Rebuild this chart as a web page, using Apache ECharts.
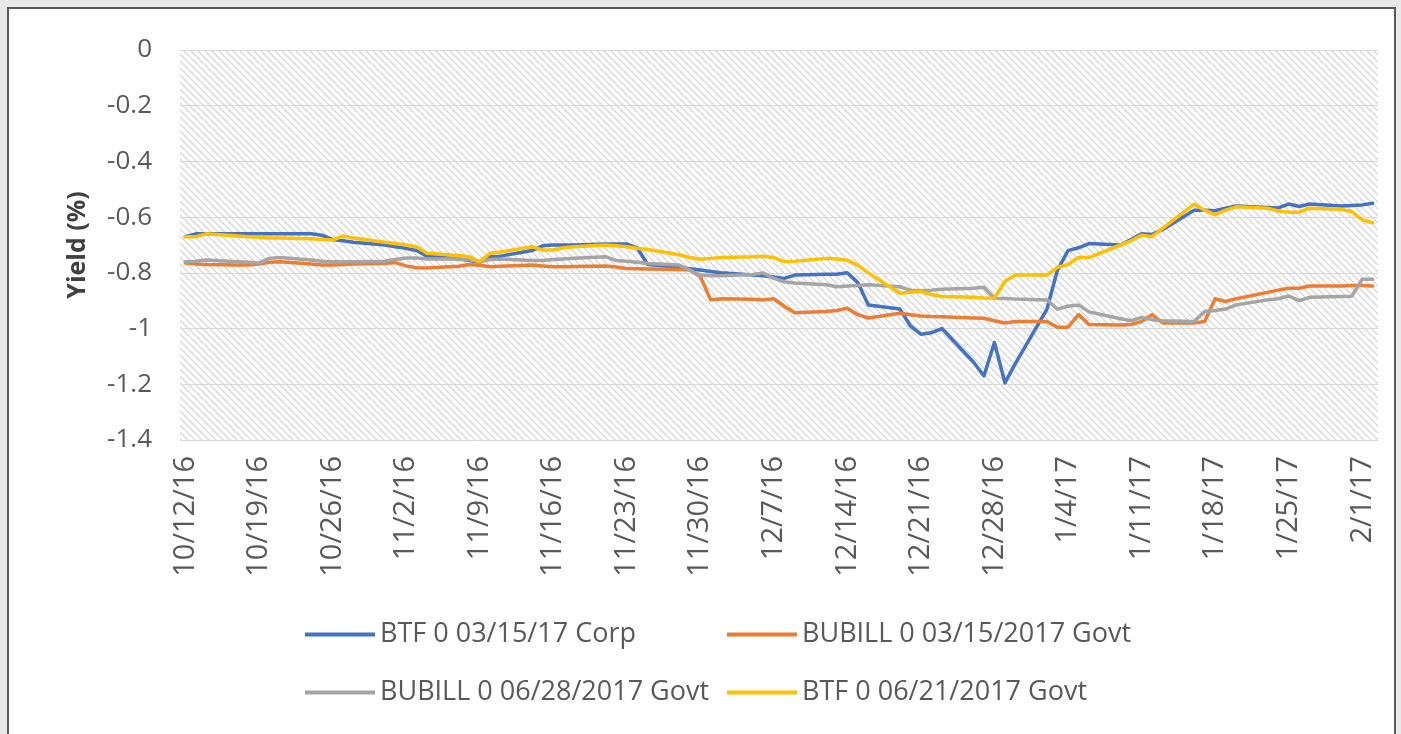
<!DOCTYPE html>
<html>
<head>
<meta charset="utf-8">
<script src="https://cdn.jsdelivr.net/npm/echarts@6/dist/echarts.min.js"></script>
<style>
  html, body { margin: 0; padding: 0; width: 1401px; height: 734px; overflow: hidden; background: #e9e9e9; }
  #frame { position: absolute; left: 7px; top: 7px; width: 1385px; height: 760px; border: 2px solid #5a5a5a; background: #ffffff; }
  #chart { position: absolute; left: 0; top: 0; width: 1401px; height: 734px; }
</style>
</head>
<body>
<div id="frame"></div>
<div id="chart"></div>
<script>
// Calendar range shown on the axis (one category per calendar day)
const startDate = [2016, 9, 12];   // 10/12/16
const dayCount = 114;              // through 2/2/17

// Series names
const seriesNames = [
  'BTF 0 03/15/17 Corp',
  'BUBILL 0 03/15/2017 Govt',
  'BUBILL 0 06/28/2017 Govt',
  'BTF 0 06/21/2017 Govt'
];

// Values per business day (Mon-Fri), 10/12/16 .. 2/2/17
const btf0315 = [
  -0.67,-0.66,-0.66,
  -0.66,-0.66,-0.66,-0.66,-0.66,
  -0.66,-0.665,-0.68,-0.685,-0.69,
  -0.70,-0.706,-0.712,-0.72,-0.74,
  -0.75,-0.755,-0.762,-0.742,-0.74,
  -0.72,-0.703,-0.70,-0.70,-0.70,
  -0.696,-0.696,-0.696,-0.71,-0.77,
  -0.78,-0.785,-0.79,-0.795,-0.80,
  -0.808,-0.81,-0.815,-0.82,-0.808,
  -0.805,-0.805,-0.80,-0.835,-0.915,
  -0.93,-0.99,-1.02,-1.015,-1.0,
  -1.12,-1.17,-1.05,-1.195,-1.125,
  -0.93,-0.79,-0.72,-0.71,-0.695,
  -0.70,-0.68,-0.66,-0.662,-0.645,
  -0.575,-0.575,-0.577,-0.568,-0.56,
  -0.565,-0.567,-0.553,-0.562,-0.553,
  -0.56,-0.558,-0.556,-0.55
];
const bubill0315 = [
  -0.765,-0.768,-0.77,
  -0.772,-0.772,-0.768,-0.762,-0.76,
  -0.768,-0.772,-0.772,-0.77,-0.768,
  -0.766,-0.763,-0.775,-0.782,-0.783,
  -0.776,-0.77,-0.773,-0.778,-0.776,
  -0.772,-0.775,-0.778,-0.778,-0.777,
  -0.775,-0.779,-0.784,-0.785,-0.786,
  -0.788,-0.79,-0.812,-0.897,-0.893,
  -0.895,-0.897,-0.893,-0.92,-0.943,
  -0.939,-0.935,-0.927,-0.95,-0.962,
  -0.945,-0.95,-0.955,-0.957,-0.958,
  -0.962,-0.963,-0.972,-0.98,-0.975,
  -0.975,-0.995,-0.995,-0.95,-0.985,
  -0.987,-0.985,-0.975,-0.95,-0.98,
  -0.98,-0.975,-0.893,-0.903,-0.893,
  -0.87,-0.862,-0.855,-0.855,-0.847,
  -0.847,-0.845,-0.845,-0.847
];
const bubill0628 = [
  -0.76,-0.758,-0.754,
  -0.76,-0.762,-0.765,-0.748,-0.745,
  -0.754,-0.758,-0.76,-0.76,-0.76,
  -0.758,-0.752,-0.747,-0.747,-0.75,
  -0.75,-0.752,-0.76,-0.752,-0.75,
  -0.756,-0.756,-0.752,-0.75,-0.748,
  -0.742,-0.756,-0.758,-0.762,-0.766,
  -0.772,-0.79,-0.808,-0.81,-0.81,
  -0.806,-0.80,-0.82,-0.832,-0.836,
  -0.843,-0.85,-0.847,-0.845,-0.843,
  -0.85,-0.862,-0.864,-0.862,-0.859,
  -0.855,-0.852,-0.891,-0.892,-0.894,
  -0.897,-0.93,-0.92,-0.915,-0.94,
  -0.965,-0.972,-0.96,-0.968,-0.972,
  -0.975,-0.939,-0.935,-0.93,-0.915,
  -0.897,-0.893,-0.883,-0.90,-0.888,
  -0.885,-0.884,-0.823,-0.823
];
const btf0621 = [
  -0.67,-0.67,-0.66,
  -0.668,-0.67,-0.672,-0.675,-0.675,
  -0.678,-0.68,-0.682,-0.668,-0.675,
  -0.69,-0.695,-0.70,-0.706,-0.73,
  -0.738,-0.742,-0.76,-0.73,-0.725,
  -0.706,-0.718,-0.718,-0.71,-0.706,
  -0.70,-0.703,-0.706,-0.712,-0.716,
  -0.735,-0.745,-0.751,-0.748,-0.745,
  -0.742,-0.74,-0.745,-0.76,-0.758,
  -0.748,-0.75,-0.755,-0.772,-0.80,
  -0.873,-0.87,-0.867,-0.878,-0.885,
  -0.888,-0.89,-0.891,-0.83,-0.808,
  -0.808,-0.78,-0.77,-0.745,-0.745,
  -0.70,-0.685,-0.665,-0.67,-0.64,
  -0.553,-0.575,-0.592,-0.575,-0.563,
  -0.568,-0.578,-0.582,-0.582,-0.568,
  -0.572,-0.58,-0.61,-0.62
];

// Y axis range and tick step
const yMin = -1.4, yMax = 0, yStep = 0.2;
const colors = ['#4472C4', '#ED7D31', '#A5A5A5', '#FFC000'];

// ---- build categories and align business-day values ----
const categories = [];
const isBusiness = [];
const t0 = Date.UTC(startDate[0], startDate[1], startDate[2]);
for (let i = 0; i < dayCount; i++) {
  const d = new Date(t0 + i * 86400000);
  categories.push((d.getUTCMonth() + 1) + '/' + d.getUTCDate() + '/' + String(d.getUTCFullYear()).slice(2));
  const wd = d.getUTCDay();
  isBusiness.push(wd !== 0 && wd !== 6);
}
function align(vals) {
  const out = []; let k = 0;
  for (let i = 0; i < dayCount; i++) out.push(isBusiness[i] ? vals[k++] : null);
  return out;
}
const allValues = [btf0315, bubill0315, bubill0628, btf0621];

// hatch pattern for plot background
const pc = document.createElement('canvas');
pc.width = 7; pc.height = 7;
const ctx = pc.getContext('2d');
ctx.strokeStyle = '#d2d2d2';
ctx.lineWidth = 1.2;
ctx.beginPath();
ctx.moveTo(-1, -1); ctx.lineTo(8, 8);
ctx.moveTo(-1, 6); ctx.lineTo(1, 8);
ctx.moveTo(6, -1); ctx.lineTo(8, 1);
ctx.stroke();

const chart = echarts.init(document.getElementById('chart'), null, { renderer: 'canvas' });
const font = "'Open Sans', 'Noto Sans', sans-serif";

const legendPos = [
  { left: 300, top: 616 },
  { left: 722, top: 616 },
  { left: 300, top: 674 },
  { left: 722, top: 674 }
];

chart.setOption({
  animation: false,
  backgroundColor: 'transparent',
  textStyle: { fontFamily: font },
  grid: {
    left: 180, top: 50, right: 23, bottom: 294,
    show: true, borderWidth: 0,
    backgroundColor: { image: pc, repeat: 'repeat' }
  },
  legend: seriesNames.map((n, i) => ({
    data: [n],
    left: legendPos[i].left,
    top: legendPos[i].top,
    icon: 'rect',
    itemWidth: 70,
    itemHeight: 4,
    itemGap: 0,
    textStyle: { fontSize: 27, color: '#595959', fontFamily: font },
    selectedMode: false
  })),
  xAxis: {
    type: 'category',
    data: categories,
    boundaryGap: true,
    axisLine: { show: true, lineStyle: { color: '#d9d9d9', width: 1 } },
    axisTick: { show: false },
    axisLabel: {
      interval: 6,
      rotate: 90,
      fontSize: 29,
      color: '#595959',
      margin: 16,
      fontFamily: font
    },
    splitLine: { show: false }
  },
  yAxis: {
    type: 'value',
    min: yMin, max: yMax, interval: yStep,
    name: 'Yield (%)',
    nameLocation: 'middle',
    nameRotate: 90,
    nameGap: 90,
    nameTextStyle: { fontSize: 25, fontWeight: 'bold', color: '#404040', fontFamily: font },
    axisLine: { show: false },
    axisTick: { show: false },
    axisLabel: {
      fontSize: 26, color: '#595959', margin: 28, fontFamily: font,
      formatter: v => String(Math.round(v * 10) / 10)
    },
    splitLine: { show: true, lineStyle: { color: '#d9d9d9', width: 1 } }
  },
  series: seriesNames.map((n, i) => ({
    name: n,
    type: 'line',
    data: align(allValues[i]),
    connectNulls: true,
    showSymbol: false,
    symbol: 'none',
    lineStyle: { color: colors[i], width: 3.5, join: 'round', cap: 'round' },
    itemStyle: { color: colors[i] },
    z: 2 + i
  }))
});
</script>
</body>
</html>
